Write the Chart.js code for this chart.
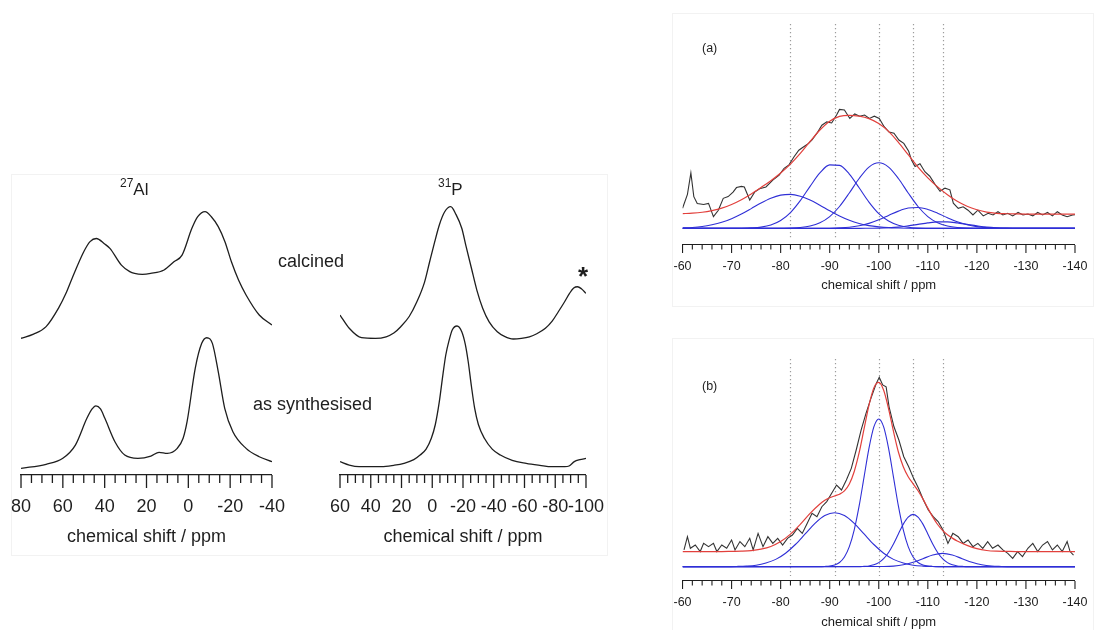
<!DOCTYPE html>
<html>
<head>
<meta charset="utf-8">
<script src="https://cdn.jsdelivr.net/npm/chart.js@4.4.1/dist/chart.umd.min.js"></script>
<style>
  body { margin: 0; width: 1094px; height: 630px; position: relative; overflow: hidden; background: #fff;
         font-family: 'Liberation Sans', Arial, sans-serif; color: #1e1e1e; }
  canvas { position: absolute; }
  .lbl { position: absolute; white-space: nowrap; line-height: 1; }
  .frame { position: absolute; border: 1px solid #f2f2f2; }
</style>
</head>
<body>
<div class="frame" style="left:11px;top:174px;width:595px;height:380px"></div>
<div class="frame" style="left:672px;top:13px;width:420px;height:292px"></div>
<div class="frame" style="left:672px;top:338px;width:420px;height:300px"></div>

<canvas id="alChart" width="290" height="380" style="left:3px;top:170px"></canvas>
<canvas id="pChart" width="290" height="380" style="left:322px;top:170px"></canvas>
<canvas id="siChartA" width="427" height="285" style="left:667px;top:10px"></canvas>
<canvas id="siChartB" width="427" height="285" style="left:667px;top:345px"></canvas>

<div class="lbl" style="left:120px;top:181px;font-size:17px"><sup style="font-size:12px;line-height:0;vertical-align:8px">27</sup>Al</div>
<div class="lbl" style="left:438px;top:181px;font-size:17px"><sup style="font-size:12px;line-height:0;vertical-align:8px">31</sup>P</div>
<div class="lbl" style="left:278px;top:252px;font-size:18px">calcined</div>
<div class="lbl" style="left:253px;top:395px;font-size:18px">as synthesised</div>
<div class="lbl" style="left:578px;top:263px;font-size:26px;font-weight:bold">*</div>
<div class="lbl" style="left:702px;top:42px;font-size:12.5px">(a)</div>
<div class="lbl" style="left:702px;top:380px;font-size:12.5px">(b)</div>

<script>
// --- tick labels ---
const alTickLabels = [80, 60, 40, 20, 0, -20, -40];
const pTickLabels = [60, 40, 20, 0, -20, -40, -60, -80, -100];
const siTickLabels = [-60, -70, -80, -90, -100, -110, -120, -130, -140];

// --- 27Al spectra (ppm, intensity with tallest peak = 100) ---
const alCalcPpm = [80, 74, 68, 62, 58.5, 55.5, 50, 47, 44, 40, 37.5, 32, 28, 25.7, 22, 18, 11.6, 6.9, 3, -1.7, -4.5, -8, -11, -14.3, -17.5, -20.6, -24, -27.6, -33.9, -40];
const alCalcInt = [0, 3.2, 9.2, 24, 35.5, 47.6, 68.3, 76.3, 78.8, 74.5, 71, 57.8, 52.6, 51.2, 50.5, 51.2, 53.9, 60.4, 65.7, 86.8, 96, 100, 96, 88.2, 76.3, 60.4, 46, 34.2, 18.4, 10.5];
const alSynPpm = [80, 68, 60, 54, 48.5, 46, 44.2, 42, 39.9, 35.1, 30.4, 24.1, 17.9, 14, 10, 5.3, 2.5, 0.6, -3.3, -6.4, -8.8, -11.5, -14.3, -17.4, -21.3, -27.6, -33.9, -40];
const alSynInt = [0, 3.1, 7.7, 17.8, 38.3, 45.5, 47.9, 45.5, 38.3, 20.4, 10.2, 7.7, 9.4, 12.3, 11.5, 15.3, 23, 35.7, 76.6, 95.7, 100, 95.7, 74, 45.9, 28, 15.3, 8.9, 5.1];

// --- 31P spectra ---
const pCalcPpm = [60, 54, 46, 37, 30, 25, 20.5, 15, 10, 5, 1.7, -1.5, -4.6, -8, -12, -15.5, -19.2, -22, -25.5, -29, -32.8, -37, -42.3, -47, -52.7, -58, -63.2, -68, -73.6, -78, -82, -86, -89.3, -92, -94.5, -97, -100];
const pCalcInt = [18.1, 8.1, 1, 0.5, 1.7, 4.5, 9.3, 17, 28.1, 43, 58.4, 73, 86.2, 96, 100, 94, 83.7, 70, 53.5, 37, 23.3, 13, 5.5, 2, 0, 0.5, 1.7, 4, 8.1, 13.5, 20.6, 28, 34.5, 38.5, 39.5, 38, 34.5];
const pSynPpm = [60, 54, 47.6, 40, 33, 25, 18.4, 12, 7.9, 4, 0.6, -2, -4.6, -7, -8.8, -11, -13, -16.1, -19.2, -21.5, -23.4, -25.5, -27.6, -30, -33.9, -39, -44.3, -52, -61.1, -70, -77.8, -86.2, -89, -92.4, -96, -100];
const pSynInt = [3.6, 1.2, 0, 0, 0, 1, 2.4, 5, 8.3, 12.5, 20.2, 30, 46.2, 66, 79.4, 90, 97.2, 100, 96, 87, 74.6, 57, 41.4, 30, 20.2, 12.5, 8.3, 4.5, 2.4, 1, 0, 0, 0.5, 3.6, 5, 5.9];

// --- 29Si, panel (a) ---
const fitCentres = [-82, -91, -100, -107, -113];
const gridA = [-60, -62, -64, -66, -68, -70, -72, -74, -76, -78, -80, -82, -84, -86, -88, -90, -92, -94, -96, -98, -100, -102, -104, -106, -108, -110, -112, -114, -116, -118, -120, -122, -124, -126, -128, -130, -132, -134, -136, -138, -140];
const fitA1 = [0.4, 0.8, 1.6, 3.1, 5.3, 8.5, 12.6, 17.4, 22.4, 26.6, 29.3, 30, 28.4, 25, 20.4, 15.5, 10.9, 7.1, 4.3, 2.4, 1.3, 0.6, 0.3, 0.1, 0, 0, 0, 0, 0, 0, 0, 0, 0, 0, 0, 0, 0, 0, 0, 0, 0];
const fitA2 = [0, 0, 0, 0, 0, 0, 0.1, 0.4, 1.1, 2.9, 6.9, 13.9, 24.4, 37.1, 48.9, 56, 55.6, 47.9, 35.8, 23.2, 13, 6.4, 2.7, 1, 0.3, 0.1, 0, 0, 0, 0, 0, 0, 0, 0, 0, 0, 0, 0, 0, 0, 0];
const fitA3 = [0, 0, 0, 0, 0, 0, 0, 0, 0, 0, 0.1, 0.2, 0.7, 2, 4.9, 10.4, 19.3, 31.2, 44, 54.1, 57.9, 54.1, 44, 31.2, 19.3, 10.4, 4.9, 2, 0.7, 0.2, 0.1, 0, 0, 0, 0, 0, 0, 0, 0, 0, 0];
const fitA4 = [0, 0, 0, 0, 0, 0, 0, 0, 0, 0, 0, 0, 0, 0, 0, 0.1, 0.4, 1, 2.3, 4.4, 7.5, 11.4, 15.2, 17.9, 18.4, 16.7, 13.4, 9.4, 5.8, 3.2, 1.5, 0.6, 0.2, 0.1, 0, 0, 0, 0, 0, 0, 0];
const fitA5 = [0, 0, 0, 0, 0, 0, 0, 0, 0, 0, 0, 0, 0, 0, 0, 0, 0, 0, 0, 0.1, 0.2, 0.5, 1.1, 2.2, 3.5, 4.8, 5.7, 5.7, 4.8, 3.5, 2.2, 1.1, 0.5, 0.2, 0.1, 0, 0, 0, 0, 0, 0];
const fitASum = [13.0, 13.4, 14.2, 15.7, 17.9, 21.1, 25.3, 30.4, 36.1, 42.1, 48.9, 56.7, 66.1, 76.7, 86.8, 94.6, 98.8, 99.8, 99, 96.8, 92.5, 85.6, 75.9, 65, 54.1, 44.6, 36.6, 29.7, 23.9, 19.5, 16.4, 14.3, 13.3, 12.9, 12.7, 12.6, 12.6, 12.6, 12.6, 12.6, 12.6];
const expAPpm = [-60, -61, -61.7, -62.3, -63, -64.3, -65.3, -66.3, -67.3, -68.3, -69.3, -70.3, -71, -72, -72.6, -73.7, -74.7, -75.7, -77, -78.4, -79.7, -80.7, -81.7, -82.7, -83.7, -84.7, -85.7, -86.4, -87.4, -88.4, -89.4, -90.4, -91.4, -92, -93, -94.1, -95.1, -96.1, -97.1, -98.1, -99.1, -100.1, -101.1, -102.1, -103.1, -104.1, -105.1, -106.1, -106.7, -107.4, -108.4, -109.4, -110.4, -111.5, -112.5, -113.5, -114.5, -115.2, -116.2, -117.2, -118.2, -119.2, -120.2, -121.3, -122.3, -123.3, -124.3, -125.3, -126.3, -127.3, -128.4, -129.4, -130.4, -131.4, -132.4, -133.4, -134.4, -135.4, -136.4, -137.4, -138.4, -139.5, -140];
const expAInt = [17.7, 30, 49, 28, 22, 21, 22, 10.3, 16, 26.5, 28, 32, 36, 37, 36.5, 25, 32, 35, 36.5, 42.6, 47, 53, 56, 63, 69, 72, 75, 78, 84, 91, 94, 93, 100, 105, 104.5, 97, 101, 99, 100, 97, 99, 97, 89.7, 85, 84, 78, 75, 68, 60, 54.5, 57, 50, 46, 38.6, 32.7, 35.5, 34, 22.2, 17.7, 19, 16, 11.8, 16, 11, 13.3, 11.8, 14.7, 11.8, 13.3, 11, 14, 11.8, 12.6, 11, 14, 11.8, 14, 11, 14.7, 11.8, 10.3, 11.8, 12];

// --- 29Si, panel (b) ---
const fitB1Ppm = [-60, -69, -71, -73, -75, -77, -79, -81, -83, -85, -87, -89, -91, -93, -95, -97, -99, -101, -103, -105, -107, -109, -111, -113, -140];
const fitB1Int = [0, 0, 0.1, 0.3, 0.8, 2, 4, 7.4, 12.2, 18, 23.8, 28.1, 29.7, 28.1, 23.8, 18, 12.2, 7.4, 4, 2, 0.8, 0.3, 0.1, 0, 0];
const fitB2Ppm = [-60, -88, -89, -90, -91, -92, -93, -94, -95, -96, -97, -98, -99, -100, -101, -102, -103, -104, -105, -106, -107, -108, -109, -110, -111, -112, -140];
const fitB2Int = [0, 0, 0.1, 0.3, 0.9, 2.3, 5.3, 11, 20.3, 33.4, 49.3, 65.1, 76.9, 81.3, 76.9, 65.1, 49.3, 33.4, 20.3, 11, 5.3, 2.3, 0.9, 0.3, 0.1, 0, 0];
const fitB3Ppm = [-60, -96, -97, -98, -99, -100, -101, -102, -103, -104, -105, -106, -107, -108, -109, -110, -111, -112, -113, -114, -115, -116, -117, -118, -140];
const fitB3Int = [0, 0, 0.2, 0.4, 1, 2.2, 4.4, 7.8, 12.5, 18, 23.4, 27.3, 28.8, 27.3, 23.4, 18, 12.5, 7.8, 4.4, 2.2, 1, 0.4, 0.2, 0, 0];
const fitB4Ppm = [-60, -101, -103, -105, -107, -109, -111, -113, -115, -117, -119, -121, -123, -125, -127, -140];
const fitB4Int = [0, 0.1, 0.3, 1, 2.4, 4.4, 6.4, 7.3, 6.4, 4.4, 2.4, 1, 0.3, 0.1, 0, 0];
const fitBSumPpm = [-60, -64, -68, -70, -72, -74, -76, -78, -80, -82, -84, -86, -88, -89, -90, -91, -92, -93, -94, -95, -96, -97, -98, -99, -100, -101, -102, -103, -104, -105, -106, -107, -108, -109, -110, -111, -112, -113, -114, -115, -116, -118, -120, -122, -124, -126, -128, -140];
const fitBSumInt = [8.3, 8.3, 8.3, 8.4, 8.5, 8.8, 9.6, 11.1, 13.8, 17.9, 23.3, 29.3, 34.5, 36.5, 37.9, 38.9, 39.9, 41.7, 45.5, 52.4, 62.7, 75.8, 88.8, 98.4, 101.4, 97.1, 86.9, 74.4, 63.1, 55, 49.5, 45.6, 41.8, 37.3, 32.2, 27.4, 23.2, 20, 17.6, 15.7, 14.1, 11.7, 9.9, 8.9, 8.5, 8.4, 8.3, 8.3];
const expBPpm = [-60.3, -61, -61.6, -62.6, -63.6, -64.3, -65.3, -66.3, -67, -68, -69, -70, -70.7, -71.7, -72.7, -73.7, -74.4, -75.4, -76.4, -77.4, -78.4, -79.4, -80.4, -81.4, -82.4, -83.4, -84.4, -85.4, -86.4, -87.4, -88.4, -89.4, -90.4, -91.4, -92.4, -93.4, -94.4, -95.4, -96.4, -97.4, -98.4, -99.5, -100.1, -100.8, -101.5, -102.1, -103.1, -104.1, -105.1, -106.1, -107.1, -108.1, -109.1, -110.1, -111.1, -112.1, -113.1, -114.1, -115.1, -116.2, -117.2, -118.2, -119.2, -120.2, -121.2, -122.2, -123.2, -124.3, -125.3, -126.3, -127.3, -128.3, -129.3, -130.4, -131.4, -132.4, -133.4, -134.4, -135.4, -136.4, -137.4, -138.4, -139, -139.7];
const expBInt = [9.2, 16.5, 10.1, 11.9, 8.3, 12.8, 11, 12.8, 8.3, 11.9, 10.1, 14.7, 9.2, 13.8, 11, 15.6, 9.2, 18.3, 11, 16.5, 12.8, 15.6, 11.9, 15.6, 17.4, 21.1, 18.3, 23.8, 29.4, 27.5, 33, 35.8, 40.4, 44.9, 42.2, 47.7, 54.1, 64.2, 75.2, 84.4, 92.6, 100.9, 104.2, 100, 99, 88, 77, 69.7, 60.5, 55, 48.6, 43.1, 36.7, 31.2, 27.5, 24.8, 20.2, 12.8, 18.3, 16.5, 12.8, 14.7, 11, 12.8, 10.1, 13.8, 10.1, 11.9, 9.2, 7.3, 4.6, 8.3, 5.5, 10.1, 12.8, 8.3, 11.9, 13.8, 9.2, 11.9, 8.3, 13.8, 8.3, 6.4];

const FONT = "'Liberation Sans', Arial, sans-serif";
const INK = '#1e1e1e';
const BLUE = '#2f2fd6';
const RED = '#e2403c';
const EXP = '#333333';

const zip = (xs, ys) => xs.map((x, i) => ({ x: x, y: ys[i] }));

function line(ppm, vals, color, width, yAxisID, smooth) {
    return {
        data: zip(ppm, vals),
        borderColor: color,
        borderWidth: width,
        pointRadius: 0,
        fill: false,
        yAxisID: yAxisID,
        tension: 0,
        cubicInterpolationMode: smooth ? 'monotone' : 'default'
    };
}

// draws minor/major tick marks below the axis line and the dotted peak guides
const axisMarks = {
    id: 'axisMarks',
    beforeDatasetsDraw(chart, args, o) {
        if (!o.guides) return;
        const { ctx, chartArea } = chart;
        const x = chart.scales.x;
        ctx.save();
        ctx.strokeStyle = '#9c9c9c';
        ctx.lineWidth = 1.2;
        ctx.setLineDash([1.3, 2.7]);
        o.guides.forEach(v => {
            const px = Math.round(x.getPixelForValue(v)) + 0.5;
            ctx.beginPath();
            ctx.moveTo(px, chartArea.top + 4);
            ctx.lineTo(px, chartArea.bottom - 5);
            ctx.stroke();
        });
        ctx.restore();
    },
    afterDraw(chart, args, o) {
        const { ctx, chartArea } = chart;
        const x = chart.scales.x;
        const y0 = chartArea.bottom;
        const n = Math.round((x.max - x.min) / o.minor);
        ctx.save();
        ctx.strokeStyle = INK;
        ctx.lineWidth = o.width;
        for (let i = 0; i <= n; i++) {
            const v = x.min + i * o.minor;
            const major = Math.abs(v / o.major - Math.round(v / o.major)) < 1e-6;
            const px = x.getPixelForValue(v);
            ctx.beginPath();
            ctx.moveTo(px, y0);
            ctx.lineTo(px, y0 + (major ? o.majorLen : o.minorLen));
            ctx.stroke();
        }
        ctx.restore();
    }
};

function xScale(tickVals, s) {
    return {
        type: 'linear',
        reverse: true,
        min: Math.min(...tickVals),
        max: Math.max(...tickVals),
        afterFit: sc => { sc.height = s.height; },
        border: { display: true, color: INK, width: s.axisWidth },
        grid: { display: true, drawOnChartArea: false, drawTicks: true, tickLength: s.majorLen, color: 'transparent', tickColor: 'transparent' },
        ticks: {
            autoSkip: false, maxRotation: 0,
            stepSize: Math.abs(tickVals[1] - tickVals[0]),
            padding: s.tickPad, color: INK,
            font: { family: FONT, size: s.font },
            callback: v => String(v)
        },
        title: {
            display: true, text: 'chemical shift / ppm', color: INK,
            font: { family: FONT, size: s.titleFont },
            padding: { top: 0, bottom: s.titlePad }
        }
    };
}

function makeChart(id, padding, scales, datasets, marks) {
    return new Chart(document.getElementById(id), {
        type: 'line',
        data: { datasets: datasets },
        plugins: [axisMarks],
        options: {
            responsive: false,
            animation: false,
            devicePixelRatio: 1,
            layout: { padding: padding },
            scales: scales,
            plugins: { legend: { display: false }, tooltip: { enabled: false }, axisMarks: marks }
        }
    });
}

const leftAxis = { height: 75, axisWidth: 1.3, majorLen: 13, tickPad: 8, font: 18, titleFont: 18, titlePad: 2 };
const leftMarks = { minor: 5, major: 20, majorLen: 13, minorLen: 8, width: 1.3 };

makeChart('alChart', { left: 15, right: 20, top: 10, bottom: 0 }, {
    x: xScale(alTickLabels, leftAxis),
    yc: { display: false, min: -108, max: 125 },
    ys: { display: false, min: -5.1, max: 220.8 }
}, [
    line(alCalcPpm, alCalcInt, INK, 1.3, 'yc', true),
    line(alSynPpm, alSynInt, INK, 1.3, 'ys', true)
], leftMarks);

makeChart('pChart', { left: 15, right: 20, top: 10, bottom: 0 }, {
    x: xScale(pTickLabels, leftAxis),
    yc: { display: false, min: -102.8, max: 120.2 },
    ys: { display: false, min: -5.9, max: 203.8 }
}, [
    line(pCalcPpm, pCalcInt, INK, 1.3, 'yc', true),
    line(pSynPpm, pSynInt, INK, 1.3, 'ys', true)
], leftMarks);

const siAxisA = { height: 50, axisWidth: 1.1, majorLen: 8, tickPad: 6.5, font: 12.5, titleFont: 13, titlePad: 1.5 };
const siAxisB = { height: 49, axisWidth: 1.1, majorLen: 8, tickPad: 6.5, font: 12.5, titleFont: 13, titlePad: 0 };
const siMarks = { minor: 2, major: 10, majorLen: 8, minorLen: 4.5, width: 1.1, guides: fitCentres };

makeChart('siChartA', { left: 14.7, right: 14, top: 10, bottom: 0 }, {
    x: xScale(siTickLabels, siAxisA),
    y: { display: false, min: -14.7, max: 183.9 }
}, [
    line(gridA, fitASum, RED, 1.2, 'y', true),
    line(expAPpm, expAInt, EXP, 1.1, 'y', false),
    line(gridA, fitA1, BLUE, 1.1, 'y', true),
    line(gridA, fitA2, BLUE, 1.1, 'y', true),
    line(gridA, fitA3, BLUE, 1.1, 'y', true),
    line(gridA, fitA4, BLUE, 1.1, 'y', true),
    line(gridA, fitA5, BLUE, 1.1, 'y', true)
], siMarks);

makeChart('siChartB', { left: 14.7, right: 14, top: 10, bottom: 0 }, {
    x: xScale(siTickLabels, siAxisB),
    y: { display: false, min: -7.9, max: 116.5 }
}, [
    line(fitBSumPpm, fitBSumInt, RED, 1.2, 'y', true),
    line(expBPpm, expBInt, EXP, 1.1, 'y', false),
    line(fitB1Ppm, fitB1Int, BLUE, 1.1, 'y', true),
    line(fitB2Ppm, fitB2Int, BLUE, 1.1, 'y', true),
    line(fitB3Ppm, fitB3Int, BLUE, 1.1, 'y', true),
    line(fitB4Ppm, fitB4Int, BLUE, 1.1, 'y', true)
], siMarks);
</script>
</body>
</html>
